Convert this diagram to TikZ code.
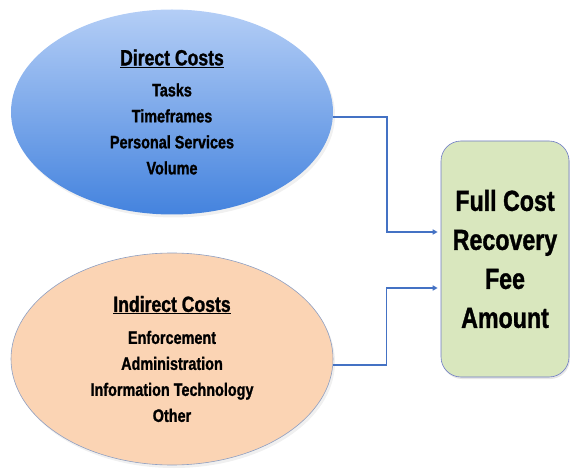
\documentclass[tikz,border=0pt]{standalone}
\usepackage{fontspec}
\setmainfont{Liberation Sans}[FakeStretch=0.8, BoldFeatures={FakeBold=1.2}]
\usetikzlibrary{shapes.geometric,shadows,arrows.meta}
\definecolor{skytop}{HTML}{B4CEF6}
\definecolor{skybot}{HTML}{4483DE}
\definecolor{peach}{HTML}{FBD4B4}
\definecolor{peachline}{HTML}{8E9FC2}
\definecolor{sage}{HTML}{D9E7BE}
\definecolor{sageline}{HTML}{6E7BC6}
\definecolor{wire}{HTML}{4472C4}

\begin{document}
\begin{tikzpicture}[x=1pt,y=-1pt]
\tikzset{costoval/.style={ellipse, minimum width=322pt, minimum height=205pt, align=center,
    font=\fontsize{18}{26}\selectfont\bfseries, inner sep=0pt,
    drop shadow={shadow xshift=2pt, shadow yshift=-3pt, opacity=0.12}},
  feebox/.style={draw=sageline, line width=0.6pt, fill=sage, rounded corners=20pt,
    minimum width=128pt, minimum height=236pt, align=center,
    font=\fontsize{29}{39}\selectfont\bfseries,
    drop shadow={shadow xshift=1pt, shadow yshift=-2pt, opacity=0.2}},
  link/.style={draw=wire, line width=1.6pt, -{Triangle[length=5pt,width=5pt]}}}
\useasboundingbox (0,0) rectangle (570,473);
\node[costoval, top color=skytop, bottom color=skybot] (direct) at (172,112)
  {{\fontsize{22}{26}\selectfont\underline{Direct Costs}}\\[5pt]
   Tasks\\Timeframes\\Personal Services\\Volume};
\node[costoval, fill=peach, draw=peachline, line width=0.6pt, minimum height=212pt] (indirect) at (172,359)
  {{\fontsize{22}{26}\selectfont\underline{Indirect Costs}}\\[6pt]
   Enforcement\\Administration\\Information Technology\\Other};
\node[feebox] (fee) at (505,259) {Full Cost\\Recovery\\Fee\\Amount};
\draw[link] ([yshift=-5pt]direct.east) -- ++(54,0) |- ([xshift=-3pt,yshift=27pt]fee.west);
\draw[link] ([yshift=-6pt]indirect.east) -- ++(53,0) |- ([xshift=-3pt,yshift=-29pt]fee.west);
\end{tikzpicture}
\end{document}
